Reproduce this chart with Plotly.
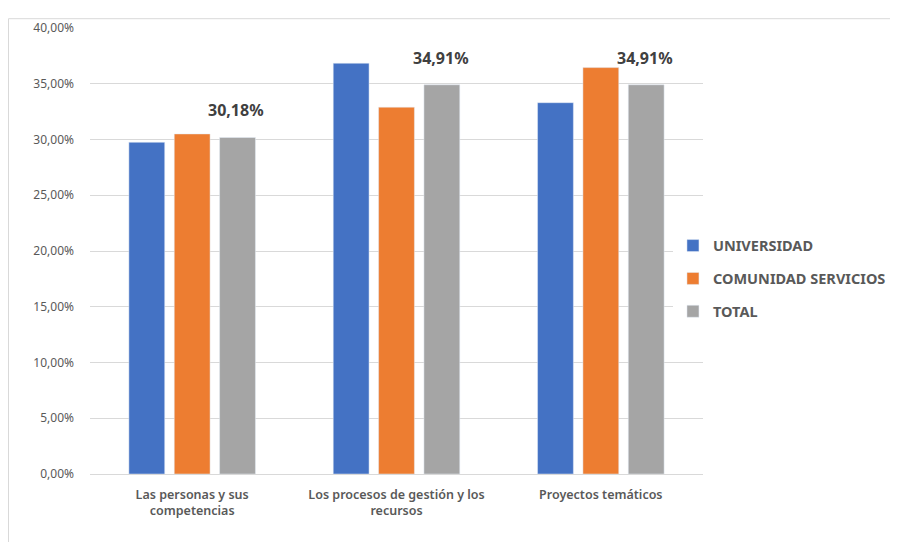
import plotly.graph_objects as go

categories = ["Las personas y sus<br>competencias", "Los procesos de gestión y los<br>recursos", "Proyectos temáticos"]
universidad = [0.2975, 0.3684, 0.3330]
comunidad = [0.3050, 0.3290, 0.3645]
total = [0.3018, 0.3491, 0.3491]
series_names = ["UNIVERSIDAD", "COMUNIDAD SERVICIOS", "TOTAL"]
colors = ["#4472C4", "#ED7D31", "#A5A5A5"]

fig = go.Figure()
for name, vals, col in zip(series_names, [universidad, comunidad, total], colors):
    fig.add_trace(go.Bar(x=categories, y=vals, name=name, marker_color=col,
                         legendgroup=name))

# data labels for TOTAL series
annotations = []
for cat, v in zip(categories, total):
    annotations.append(dict(x=cat, y=v, xref="x", yref="y", text=f"{v*100:.2f}%".replace(".", ","),
                            showarrow=False, xshift=44, yshift=14, yanchor="bottom",
                            font=dict(family="Noto Sans", size=16, color="#404040", weight="bold")))

fig.update_layout(
    width=898, height=542,
    margin=dict(l=82, r=203, t=11, b=76),
    paper_bgcolor="white", plot_bgcolor="white",
    separators=",.",
    barmode="group", bargap=0.334, bargroupgap=0.21,
    font=dict(family="Noto Sans", size=12, color="#595959"),
    legend=dict(x=0.951, xanchor="left", y=0.438, yanchor="middle",
                traceorder="grouped", tracegroupgap=11,
                font=dict(family="Noto Sans", size=14.5, color="#595959", weight="bold"),
                itemwidth=30),
    xaxis=dict(showline=True, linecolor="#d9d9d9", linewidth=1, ticks="",
               ticklabelstandoff=9,
               tickfont=dict(size=12.5, color="#595959", weight=600)),
    yaxis=dict(range=[0, 0.40], dtick=0.05, tickformat=".2%", showgrid=True,
               gridcolor="#d9d9d9", zeroline=False, ticklabelstandoff=15,
               tickfont=dict(size=12, color="#595959")),
    annotations=annotations,
    shapes=[dict(type="rect", xref="paper", yref="paper",
                 x0=(0.5 - 82) / 613, x1=1.5, y0=-0.5, y1=(466 - 1.5) / 455,
                 line=dict(color="#d9d9d9", width=1), layer="below")],
)

fig.write_html("out.html")
